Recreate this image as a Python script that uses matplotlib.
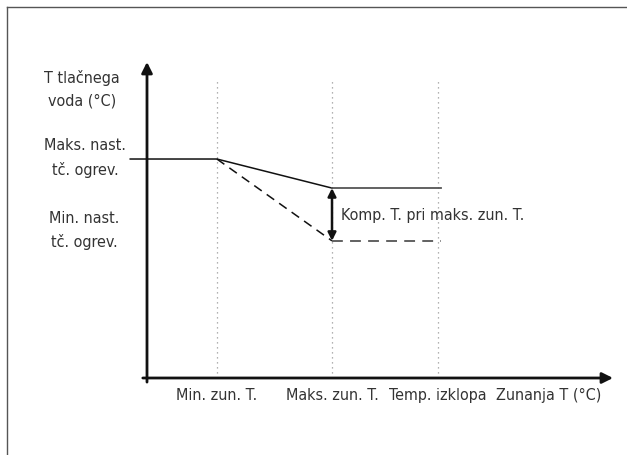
import matplotlib.pyplot as plt

# Schematic heating curve (arbitrary units, origin at the axis crossing)
x_marks = [15.0, 39.7, 62.4]          # Min. zun. T., Maks. zun. T., Temp. izklopa
x_labels = ["Min. zun. T.", "Maks. zun. T.", "Temp. izklopa"]
x_line_start = -3.6
x_line_end = 63.1

y_max_set = 69.3      # Maks. nast. tč. ogrev.
y_comp = 60.1         # value at max outdoor T with compensation
y_min_set = 43.4      # Min. nast. tč. ogrev.
y_grid_top = 94.6

plt.rcParams['font.family'] = ['DejaVu Sans']
plt.rcParams['font.stretch'] = 'condensed'
txt_color = "#333333"
fs = 11.5

fig = plt.figure(figsize=(6.27, 4.56), dpi=100)

# outer frame (only top / left visible)
fig.add_artist(plt.Line2D([7 / 627, 7 / 627], [0, 1 - 8 / 456], color="#555555", lw=1.0))
fig.add_artist(plt.Line2D([7 / 627, 1], [1 - 8 / 456, 1 - 8 / 456], color="#555555", lw=1.0))

ax = fig.add_axes([147 / 627, (456 - 379) / 456, (613 - 147) / 627, (379 - 63) / 456])
ax.set_xlim(0, 100)
ax.set_ylim(0, 100)
ax.axis("off")

# dotted verticals
for xm in x_marks:
    ax.plot([xm, xm], [0, y_grid_top], color="#999999", lw=0.9, linestyle=(0, (1, 3)), clip_on=False)

# solid curve
ax.plot([x_line_start, x_marks[0], x_marks[1]], [y_max_set, y_max_set, y_comp],
        color="#111111", lw=1.1, clip_on=False)
ax.plot([x_marks[1], x_line_end], [y_comp, y_comp], color="#555555", lw=1.3, clip_on=False)

# dashed curve
ax.plot([x_marks[0], x_marks[1]], [y_max_set, y_min_set], color="#111111", lw=1.1,
        linestyle=(0, (6, 4)), clip_on=False)
ax.plot([x_marks[1], x_line_end], [y_min_set, y_min_set], color="#555555", lw=1.3,
        linestyle=(0, (6, 4)), clip_on=False)

# double arrow for compensation
ax.annotate("", xy=(x_marks[1], y_min_set), xytext=(x_marks[1], y_comp),
            arrowprops=dict(arrowstyle="<|-|>", color="#111111", lw=1.8,
                            mutation_scale=12, shrinkA=0, shrinkB=0))
ax.text(x_marks[1] + 2.0, (y_comp + y_min_set) / 2, "Komp. T. pri maks. zun. T.",
        ha="left", va="center", fontsize=fs, color=txt_color)

# axes with arrows
ax.annotate("", xy=(100, 0), xytext=(-0.9, 0),
            arrowprops=dict(arrowstyle="-|>", color="#111111", lw=2.0,
                            mutation_scale=16, shrinkA=0, shrinkB=0), annotation_clip=False)
ax.annotate("", xy=(0, 100), xytext=(0, -1.3),
            arrowprops=dict(arrowstyle="-|>", color="#111111", lw=2.0,
                            mutation_scale=16, shrinkA=0, shrinkB=0), annotation_clip=False)

# x labels
for xm, lab in zip(x_marks, x_labels):
    ax.text(xm, -5.3, lab, ha="center", va="center", fontsize=fs, color=txt_color, clip_on=False)
ax.text(86.2, -5.3, "Zunanja T (°C)", ha="center", va="center", fontsize=fs,
        color=txt_color, clip_on=False)

# y labels
ax.text(-13.9, 91.6, "T tlačnega\nvoda (°C)", ha="center", va="center", fontsize=fs,
        color=txt_color, linespacing=1.65, clip_on=False)
ax.text(-13.3, 70.0, "Maks. nast.\ntč. ogrev.", ha="center", va="center", fontsize=fs,
        color=txt_color, linespacing=1.65, clip_on=False)
ax.text(-13.5, 47.0, "Min. nast.\ntč. ogrev.", ha="center", va="center", fontsize=fs,
        color=txt_color, linespacing=1.65, clip_on=False)

fig.savefig("out.png", dpi=100)
